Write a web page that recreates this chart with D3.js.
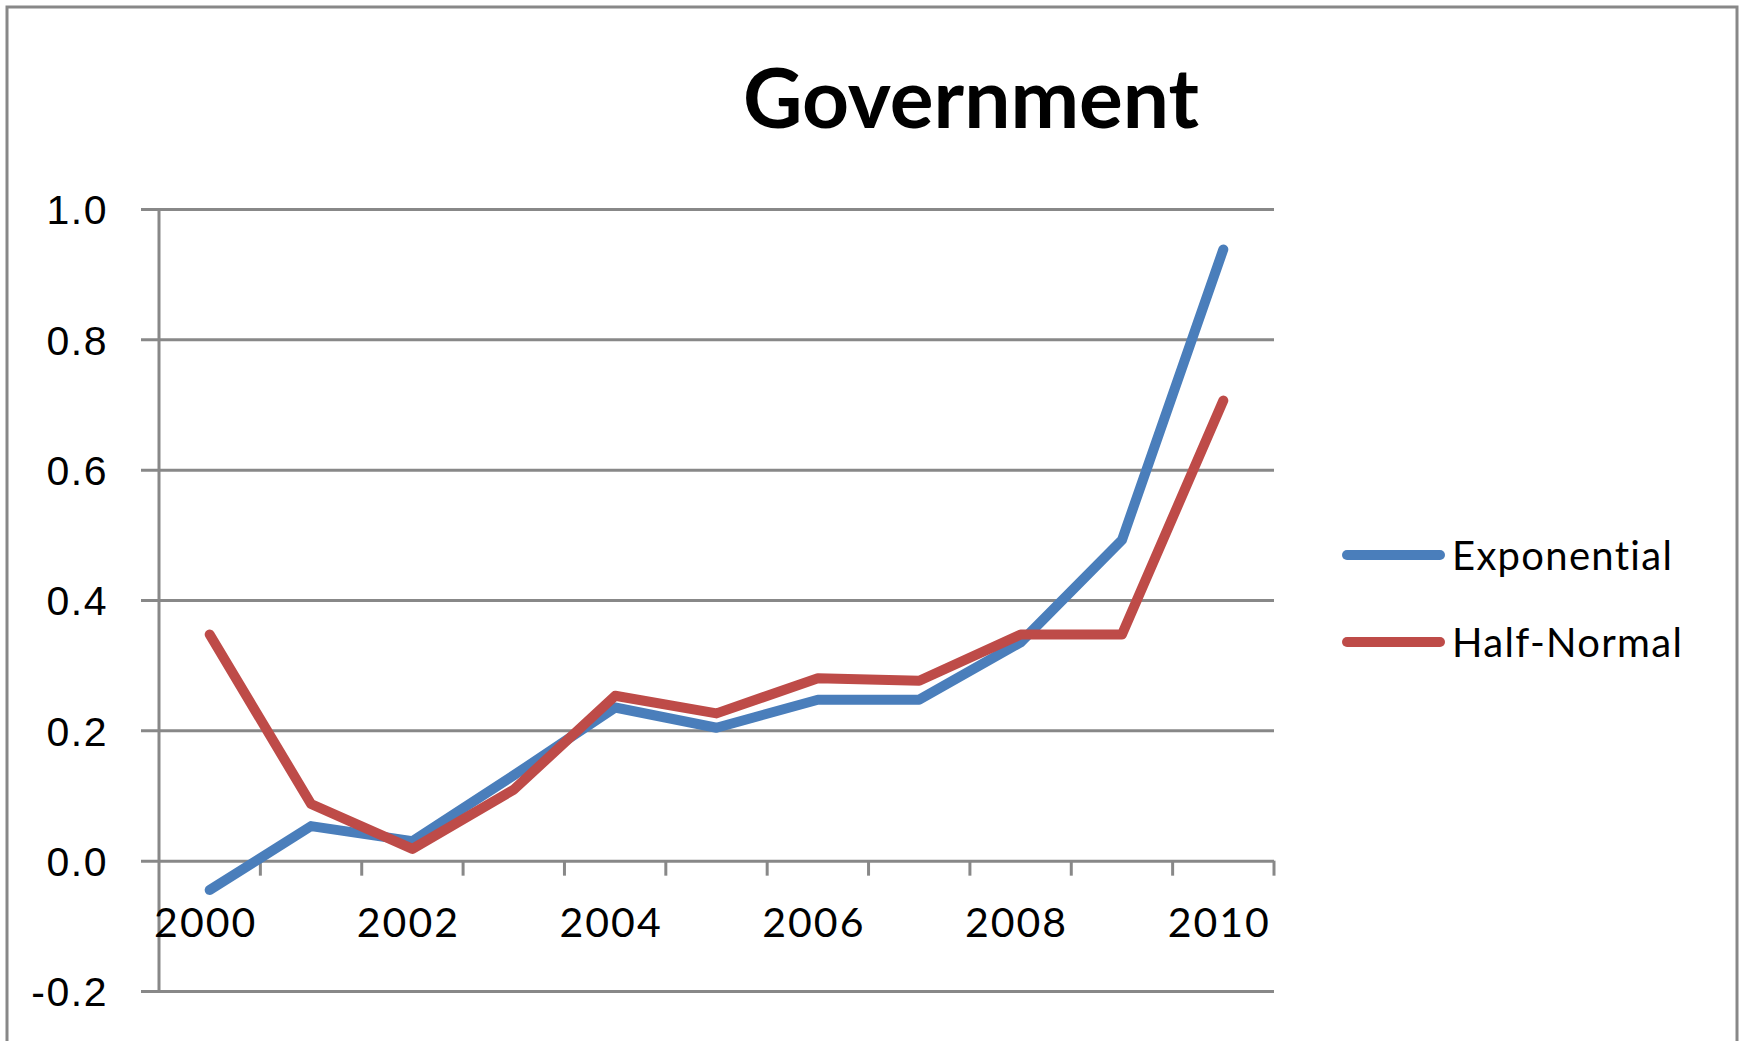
<!DOCTYPE html>
<html>
<head>
<meta charset="utf-8">
<script src="https://cdn.jsdelivr.net/npm/d3@7/dist/d3.min.js"></script>
<style>
  html, body { margin: 0; padding: 0; background: #fff; }
  svg { display: block; font-family: Lato, "Open Sans", sans-serif; }
</style>
</head>
<body>
<svg id="chart" width="1748" height="1041"></svg>
<script>
// Yearly estimates for the government sector
const years = ["2000","2001","2002","2003","2004","2005","2006","2007","2008","2009","2010"];
const exponential = [-0.045, 0.053, 0.030, 0.131, 0.235, 0.204, 0.247, 0.247, 0.335, 0.492, 0.938];
const halfNormal  = [0.347, 0.087, 0.018, 0.109, 0.253, 0.226, 0.280, 0.276, 0.347, 0.347, 0.706];
const seriesNames = ["Exponential", "Half-Normal"];
const yTicks = [-0.2, 0.0, 0.2, 0.4, 0.6, 0.8, 1.0];
const xLabelYears = ["2000","2002","2004","2006","2008","2010"];
const title = "Government";

const colors = ["#4A7EBB", "#BE4B48"];
const gridColor = "#888888";

const svg = d3.select("#chart");

// outer chart frame
svg.append("rect")
  .attr("x", 7).attr("y", 7)
  .attr("width", 1730).attr("height", 1100)
  .attr("fill", "#fff")
  .attr("stroke", gridColor).attr("stroke-width", 3);

const plot = { left: 159, right: 1274, top: 209, bottom: 991 };

const x = d3.scaleBand().domain(years).range([plot.left, plot.right]).paddingInner(0).paddingOuter(0);
const y = d3.scaleLinear().domain([-0.2, 1.0]).range([plot.bottom, plot.top]);
const cx = d => x(d) + x.bandwidth() / 2;

// one decimal, plain hyphen for negatives
const fmt = v => d3.format(".1f")(v).replace("\u2212", "-");

// horizontal gridlines with short outside ticks
const yAxis = d3.axisLeft(y)
  .tickValues(yTicks)
  .tickSize(-(plot.right - plot.left))
  .tickSizeOuter(0)
  .tickFormat(fmt);

const gy = svg.append("g")
  .attr("transform", `translate(${plot.left},0)`)
  .call(yAxis);
gy.select(".domain").remove();
gy.selectAll(".tick line")
  .attr("x1", -18)
  .attr("stroke", gridColor).attr("stroke-width", 3);
gy.selectAll(".tick text")
  .attr("x", -51)
  .attr("dy", "0.36em")
  .attr("fill", "#000")
  .style("font-size", "41px")
  .style("letter-spacing", "1.5px")
  .attr("text-anchor", "end");

// vertical axis line
svg.append("line")
  .attr("x1", plot.left).attr("x2", plot.left)
  .attr("y1", plot.top).attr("y2", plot.bottom)
  .attr("stroke", gridColor).attr("stroke-width", 3);

// category axis on the zero line, ticks at band edges
const y0 = y(0);
const edges = years.map(d => x(d)).concat([plot.right]);
svg.append("g").selectAll("line")
  .data(edges.slice(1))
  .join("line")
  .attr("x1", d => d).attr("x2", d => d)
  .attr("y1", y0).attr("y2", y0 + 15)
  .attr("stroke", gridColor).attr("stroke-width", 3);

svg.append("g").selectAll("text")
  .data(xLabelYears)
  .join("text")
  .attr("x", d => cx(d) - 4)
  .attr("y", 937)
  .attr("text-anchor", "middle")
  .attr("fill", "#000")
  .style("font-size", "41px")
  .style("letter-spacing", "2px")
  .text(d => d);

// series lines
const seriesData = [exponential, halfNormal];
const line = d3.line()
  .x((v, i) => cx(years[i]))
  .y(v => y(v));

svg.append("g").selectAll("path")
  .data(seriesData)
  .join("path")
  .attr("d", d => line(d))
  .attr("fill", "none")
  .attr("stroke", (d, i) => colors[i])
  .attr("stroke-width", 10)
  .attr("stroke-linejoin", "round")
  .attr("stroke-linecap", "round");

// title
svg.append("text")
  .attr("x", 971).attr("y", 128)
  .attr("text-anchor", "middle")
  .attr("fill", "#000")
  .style("font-size", "82px")
  .style("font-weight", "bold")
  .text(title);

// legend
const legend = svg.append("g");
const legendRows = seriesNames.map((name, i) => ({ name, color: colors[i], y: 555 + i * 87 }));
legend.selectAll("line")
  .data(legendRows)
  .join("line")
  .attr("x1", 1347).attr("x2", 1440)
  .attr("y1", d => d.y).attr("y2", d => d.y)
  .attr("stroke", d => d.color)
  .attr("stroke-width", 10)
  .attr("stroke-linecap", "round");
legend.selectAll("text")
  .data(legendRows)
  .join("text")
  .attr("x", 1452)
  .attr("y", d => d.y + 15)
  .attr("fill", "#000")
  .style("font-size", "40px")
  .style("letter-spacing", "1.3px")
  .text(d => d.name);
</script>
</body>
</html>
